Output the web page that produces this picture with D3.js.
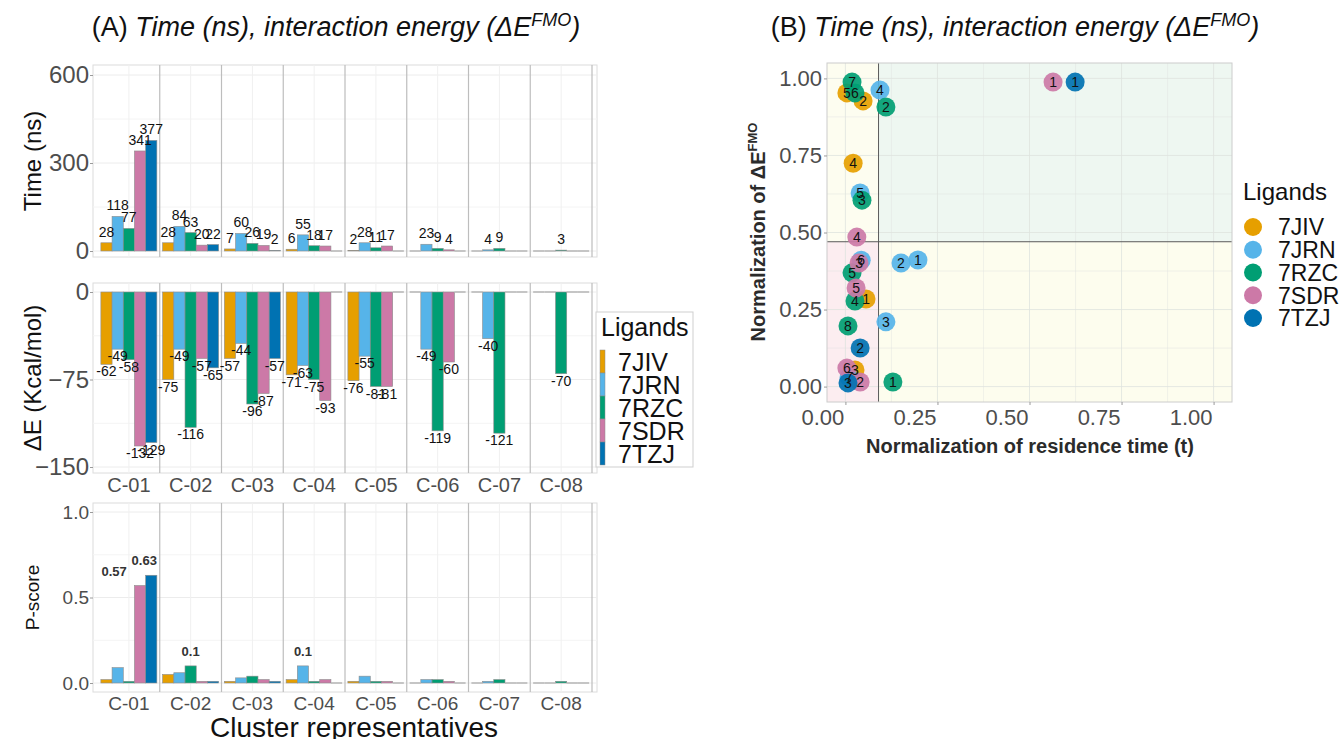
<!DOCTYPE html>
<html>
<head>
<meta charset="utf-8">
<script src="https://cdn.jsdelivr.net/npm/d3@7"></script>
<style>
  body { margin: 0; background: #fff; }
  svg { font-family: "Liberation Sans", Arial, sans-serif; }
</style>
</head>
<body>
<script>
// ---- data ----
const clusters = ["C-01", "C-02", "C-03", "C-04", "C-05", "C-06", "C-07", "C-08"];
const ligands = ["7JIV", "7JRN", "7RZC", "7SDR", "7TZJ"];
const ligandColors = ["#E69F00", "#56B4E9", "#009E73", "#CC79A7", "#0072B2"];

// rows = clusters, columns = ligands (0 = no pose)
const timeNs = [
    [28, 118, 77, 341, 377],
    [28, 84, 63, 20, 22],
    [7, 60, 26, 19, 2],
    [6, 55, 18, 17, 0],
    [2, 28, 11, 17, 0],
    [0, 23, 9, 4, 0],
    [0, 4, 9, 0, 0],
    [0, 0, 3, 0, 0]
];
const deltaE = [
    [-62, -49, -58, -132, -129],
    [-75, -49, -116, -57, -65],
    [-57, -44, -96, -87, -57],
    [-71, -63, -75, -93, 0],
    [-76, -55, -81, -81, 0],
    [0, -49, -119, -60, 0],
    [0, -40, -121, 0, 0],
    [0, 0, -70, 0, 0]
];
const pScore = [
    [0.02, 0.09, 0.01, 0.57, 0.63],
    [0.05, 0.06, 0.10, 0.01, 0.01],
    [0.01, 0.03, 0.04, 0.02, 0.01],
    [0.02, 0.10, 0.01, 0.02, 0],
    [0.01, 0.04, 0.01, 0.01, 0],
    [0, 0.02, 0.02, 0.01, 0],
    [0, 0.01, 0.02, 0, 0],
    [0, 0, 0.01, 0, 0]
];
const pLabelled = [[0, 3], [0, 4], [1, 2], [3, 1]];

const timeTicks = [0, 300, 600];
const energyTicks = [-150, -75, 0];
const pTicks = [0, 0.5, 1];
const normTicks = [0, 0.25, 0.5, 0.75, 1];

// panel B: normalised residence time vs normalised interaction energy
const scatterLigand = ["7JIV", "7JIV", "7JIV", "7JIV", "7JIV",
    "7JRN", "7JRN", "7JRN", "7JRN", "7JRN", "7JRN", "7JRN",
    "7RZC", "7RZC", "7RZC", "7RZC", "7RZC", "7RZC", "7RZC", "7RZC",
    "7SDR", "7SDR", "7SDR", "7SDR", "7SDR", "7SDR",
    "7TZJ", "7TZJ", "7TZJ"];
const scatterCluster = [1, 2, 3, 4, 5,
    1, 2, 3, 4, 5, 6, 7,
    1, 2, 3, 4, 5, 6, 7, 8,
    1, 2, 3, 4, 5, 6,
    1, 2, 3];
const scatterX = [0.056, 0.048, 0.026, 0.021, 0.004,
    0.197, 0.151, 0.110, 0.094, 0.040, 0.043, 0.010,
    0.129, 0.110, 0.045, 0.026, 0.018, 0.026, 0.018, 0.007,
    0.564, 0.040, 0.037, 0.031, 0.029, 0.004,
    0.624, 0.040, 0.007];
const scatterY = [0.284, 0.927, 0.054, 0.725, 0.953,
    0.411, 0.401, 0.210, 0.962, 0.628, 0.410, 0.030,
    0.015, 0.907, 0.605, 0.278, 0.369, 0.953, 0.988, 0.197,
    0.988, 0.015, 0.401, 0.485, 0.320, 0.060,
    0.988, 0.125, 0.012];
const energyCut = 0.47;
const timeCut = 0.09;

// ---- setup ----
const svg = d3.select("body").append("svg")
    .attr("width", 1343)
    .attr("height", 739);

const tickGrey = "#4d4d4d";
const colour = d3.scaleOrdinal().domain(ligands).range(ligandColors);

function title(x, letter){
    let t = svg.append("text")
        .attr("x", x)
        .attr("y", 36)
        .attr("text-anchor", "middle")
        .attr("font-size", 27)
        .attr("fill", "#111");
    t.append("tspan").text("(" + letter + ") ");
    t.append("tspan").attr("font-style", "italic").text("Time (ns), interaction energy (ΔE");
    t.append("tspan").attr("font-style", "italic").attr("font-size", 18).attr("dy", -10).text("FMO");
    t.append("tspan").attr("font-style", "italic").attr("dy", 10).text(")");
}
title(336, "A");
title(1015, "B");

// ---- panel A: three faceted bar panels ----
const left = 93, right = 597;
const fx = d3.scaleBand().domain(clusters).range([98, 592]);
const fl = d3.scaleBand().domain(ligands).range([0, fx.bandwidth()]).paddingOuter(0.257);

function barPanel(opt){
    let g = svg.append("g");
    let y = opt.y;
    g.append("rect")
        .attr("x", left).attr("y", opt.top)
        .attr("width", right - left).attr("height", opt.bottom - opt.top)
        .attr("fill", "white").attr("stroke", "#dcdcdc");

    // grid
    g.selectAll(".minor")
        .data(opt.minor)
        .join("line")
        .attr("x1", left).attr("x2", right)
        .attr("y1", d => y(d)).attr("y2", d => y(d))
        .attr("stroke", "#f4f4f4");
    g.selectAll(".major")
        .data(opt.ticks)
        .join("line")
        .attr("x1", left).attr("x2", right)
        .attr("y1", d => y(d)).attr("y2", d => y(d))
        .attr("stroke", "#ececec");
    g.selectAll(".vgrid")
        .data(clusters)
        .join("line")
        .attr("x1", d => fx(d) + fx.bandwidth() / 2)
        .attr("x2", d => fx(d) + fx.bandwidth() / 2)
        .attr("y1", opt.top).attr("y2", opt.bottom)
        .attr("stroke", "#f0f0f0");

    // bars
    let cells = [];
    opt.values.forEach(function(row, i){
        row.forEach(function(v, j){
            cells.push({c: clusters[i], l: ligands[j], v: v, i: i, j: j});
        });
    });
    g.selectAll(".bar")
        .data(cells.filter(d => d.v != 0))
        .join("rect")
        .attr("x", d => fx(d.c) + fl(d.l))
        .attr("width", fl.bandwidth())
        .attr("y", d => Math.min(y(d.v), y(0)))
        .attr("height", d => Math.abs(y(d.v) - y(0)))
        .attr("fill", d => colour(d.l))
        .attr("stroke", "#8c8c8c")
        .attr("stroke-width", 0.6);
    g.selectAll(".zero")
        .data(cells.filter(d => d.v == 0))
        .join("line")
        .attr("x1", d => fx(d.c) + fl(d.l))
        .attr("x2", d => fx(d.c) + fl(d.l) + fl.bandwidth())
        .attr("y1", y(0)).attr("y2", y(0))
        .attr("stroke", "#b5b5b5")
        .attr("stroke-width", 1.5);

    // facet separators
    g.selectAll(".sep")
        .data(clusters)
        .join("line")
        .attr("x1", d => fx(d) + fx.bandwidth())
        .attr("x2", d => fx(d) + fx.bandwidth())
        .attr("y1", opt.top).attr("y2", opt.bottom)
        .attr("stroke", "#bdbdbd")
        .attr("stroke-width", 1.2);

    // value labels
    if (opt.label){
        opt.label(g, cells);
    }

    // y axis
    let ax = g.append("g")
        .attr("transform", "translate(" + left + ",0)")
        .call(d3.axisLeft(y).tickValues(opt.ticks).tickSize(3).tickPadding(1).tickFormat(opt.fmt));
    ax.select(".domain").remove();
    ax.selectAll("line").attr("stroke", "#9a9a9a");
    ax.selectAll("text")
        .attr("fill", tickGrey)
        .attr("font-size", opt.tickFont)
        .attr("font-family", "Liberation Sans, Arial, sans-serif");

    // y title
    g.append("text")
        .attr("transform", "translate(" + opt.titleX + "," + ((opt.top + opt.bottom) / 2) + ") rotate(-90)")
        .attr("text-anchor", "middle")
        .attr("font-size", opt.titleFont)
        .attr("fill", "#111")
        .text(opt.title);

    // cluster labels
    if (opt.xLabels){
        let bx = g.append("g")
            .attr("transform", "translate(0," + opt.bottom + ")")
            .call(d3.axisBottom(fx).tickSize(0).tickPadding(opt.xPad));
        bx.select(".domain").remove();
        bx.selectAll("text")
            .attr("fill", tickGrey)
            .attr("font-size", opt.xFont)
            .attr("font-family", "Liberation Sans, Arial, sans-serif");
    }
    return g;
}

const timeY = d3.scaleLinear().domain([0, 600]).range([251, 75]);
const energyY = d3.scaleLinear().domain([-150, 0]).range([467, 292]);
const pY = d3.scaleLinear().domain([0, 1]).range([683, 512]);

barPanel({
    top: 65, bottom: 257, y: timeY, values: timeNs,
    ticks: timeTicks, minor: [150, 450], fmt: d3.format("d"), tickFont: 24,
    title: "Time (ns)", titleX: 41, titleFont: 24,
    label: function(g, cells){
        g.selectAll(".lab")
            .data(cells.filter(d => d.v != 0))
            .join("text")
            .attr("x", d => fx(d.c) + fl(d.l) + fl.bandwidth() / 2)
            .attr("y", d => timeY(d.v) - 6)
            .attr("text-anchor", "middle")
            .attr("font-size", 14)
            .attr("fill", "#111")
            .text(d => d.v);
    }
});

barPanel({
    top: 283, bottom: 473, y: energyY, values: deltaE,
    ticks: energyTicks, minor: [-112.5, -37.5], fmt: d3.format("d"), tickFont: 24,
    title: "ΔE (Kcal/mol)", titleX: 41, titleFont: 24,
    xLabels: true, xPad: 5, xFont: 20,
    label: function(g, cells){
        g.selectAll(".lab")
            .data(cells.filter(d => d.v != 0))
            .join("text")
            .attr("x", d => fx(d.c) + fl(d.l) + fl.bandwidth() / 2)
            .attr("y", d => energyY(d.v) + 12)
            .attr("text-anchor", "middle")
            .attr("font-size", 14)
            .attr("fill", "#111")
            .text(d => d.v);
    }
});

barPanel({
    top: 503, bottom: 692, y: pY, values: pScore,
    ticks: pTicks, minor: [0.25, 0.75], fmt: d3.format(".1f"), tickFont: 19,
    title: "P-score", titleX: 39, titleFont: 19,
    xLabels: true, xPad: 5, xFont: 19,
    label: function(g, cells){
        // the two C-01 labels were pushed left so they don't collide
        let shift = {"0-3": -26, "0-4": -7};
        g.selectAll(".lab")
            .data(pLabelled.map(p => cells.find(d => d.i == p[0] && d.j == p[1])))
            .join("text")
            .attr("x", d => fx(d.c) + fl(d.l) + fl.bandwidth() / 2 + (shift[d.i + "-" + d.j] || 0))
            .attr("y", d => pY(d.v) - 10)
            .attr("text-anchor", "middle")
            .attr("font-size", 13)
            .attr("font-weight", "bold")
            .attr("fill", "#333")
            .text(d => d3.format("")(d.v));
    }
});

svg.append("text")
    .attr("x", 354)
    .attr("y", 737)
    .attr("text-anchor", "middle")
    .attr("font-size", 28)
    .attr("fill", "#111")
    .text("Cluster representatives");

// legend A
let legA = svg.append("g");
legA.append("rect")
    .attr("x", 596).attr("y", 312)
    .attr("width", 97).attr("height", 155)
    .attr("fill", "white").attr("stroke", "#cfcfcf");
legA.append("text")
    .attr("x", 601).attr("y", 336)
    .attr("font-size", 25).attr("fill", "#111")
    .text("Ligands");
legA.selectAll(".key")
    .data(ligands)
    .join("rect")
    .attr("x", 600).attr("y", (d, i) => 350 + i * 23)
    .attr("width", 5).attr("height", 23)
    .attr("fill", d => colour(d))
    .attr("stroke", "#8c8c8c").attr("stroke-width", 0.5);
legA.selectAll(".lab")
    .data(ligands)
    .join("text")
    .attr("x", 618).attr("y", (d, i) => 361.5 + i * 23)
    .attr("dy", "0.36em")
    .attr("font-size", 25).attr("fill", "#111")
    .text(d => d);

// ---- panel B ----
const bx = d3.scaleLinear().domain([-0.05, 1.05]).range([827, 1232]);
const by = d3.scaleLinear().domain([-0.05, 1.05]).range([402, 63]);
let gB = svg.append("g");

const quads = [
    {x0: -0.05, x1: timeCut, y0: energyCut, y1: 1.05, fill: "#fdfdf0"},
    {x0: timeCut, x1: 1.05, y0: energyCut, y1: 1.05, fill: "#eef7f1"},
    {x0: -0.05, x1: timeCut, y0: -0.05, y1: energyCut, fill: "#fcedf0"},
    {x0: timeCut, x1: 1.05, y0: -0.05, y1: energyCut, fill: "#fdfdee"}
];
gB.selectAll(".quad")
    .data(quads)
    .join("rect")
    .attr("x", d => bx(d.x0)).attr("width", d => bx(d.x1) - bx(d.x0))
    .attr("y", d => by(d.y1)).attr("height", d => by(d.y0) - by(d.y1))
    .attr("fill", d => d.fill);

const minorB = [0.125, 0.375, 0.625, 0.875];
gB.selectAll(".gx")
    .data(normTicks.concat(minorB))
    .join("line")
    .attr("x1", d => bx(d)).attr("x2", d => bx(d))
    .attr("y1", 63).attr("y2", 402)
    .attr("stroke", "#dfe3df").attr("stroke-opacity", d => minorB.includes(d) ? 0.45 : 0.8);
gB.selectAll(".gy")
    .data(normTicks.concat(minorB))
    .join("line")
    .attr("y1", d => by(d)).attr("y2", d => by(d))
    .attr("x1", 827).attr("x2", 1232)
    .attr("stroke", "#dfe3df").attr("stroke-opacity", d => minorB.includes(d) ? 0.45 : 0.8);

gB.append("line")
    .attr("x1", bx(timeCut)).attr("x2", bx(timeCut))
    .attr("y1", 63).attr("y2", 402)
    .attr("stroke", "#5a5a5a").attr("stroke-width", 1);
gB.append("line")
    .attr("x1", 827).attr("x2", 1232)
    .attr("y1", by(energyCut)).attr("y2", by(energyCut))
    .attr("stroke", "#5a5a5a").attr("stroke-width", 1);

gB.append("rect")
    .attr("x", 827).attr("y", 63)
    .attr("width", 405).attr("height", 339)
    .attr("fill", "none").attr("stroke", "#cccccc");

const pts = scatterX.map((x, i) => ({x: x, y: scatterY[i], l: scatterLigand[i], c: scatterCluster[i]}));
gB.selectAll(".pt")
    .data(pts)
    .join("circle")
    .attr("cx", d => bx(d.x)).attr("cy", d => by(d.y))
    .attr("r", 9.5)
    .attr("fill", d => colour(d.l))
    .attr("fill-opacity", 0.92);
gB.selectAll(".ptlab")
    .data(pts)
    .join("text")
    .attr("x", d => bx(d.x)).attr("y", d => by(d.y))
    .attr("dy", "0.36em")
    .attr("text-anchor", "middle")
    .attr("font-size", 14)
    .attr("fill", "#111")
    .text(d => d.c);

let axB = gB.append("g")
    .attr("transform", "translate(0,402)")
    .call(d3.axisBottom(bx).tickValues(normTicks).tickSize(3).tickPadding(4).tickFormat(d3.format(".2f")));
axB.select(".domain").remove();
axB.selectAll("line").attr("stroke", "#9a9a9a");
axB.selectAll("text")
    .attr("dx", -23)
    .attr("fill", tickGrey).attr("font-size", 22)
    .attr("font-family", "Liberation Sans, Arial, sans-serif");

let ayB = gB.append("g")
    .attr("transform", "translate(827,0)")
    .call(d3.axisLeft(by).tickValues(normTicks).tickSize(3).tickPadding(2).tickFormat(d3.format(".2f")));
ayB.select(".domain").remove();
ayB.selectAll("line").attr("stroke", "#9a9a9a");
ayB.selectAll("text")
    .attr("fill", tickGrey).attr("font-size", 22)
    .attr("font-family", "Liberation Sans, Arial, sans-serif");

gB.append("text")
    .attr("x", 1030).attr("y", 453)
    .attr("text-anchor", "middle")
    .attr("font-size", 20).attr("font-weight", "bold").attr("fill", "#2b2b2b")
    .text("Normalization of residence time (t)");

let yt = gB.append("text")
    .attr("transform", "translate(765,232) rotate(-90)")
    .attr("text-anchor", "middle")
    .attr("font-size", 20).attr("font-weight", "bold").attr("fill", "#2b2b2b");
yt.append("tspan").text("Normalization of ΔE");
yt.append("tspan").attr("font-size", 13).attr("dy", -8).text("FMO");

// legend B
let legB = svg.append("g");
legB.append("text")
    .attr("x", 1243).attr("y", 200)
    .attr("font-size", 24).attr("fill", "#111")
    .text("Ligands");
legB.selectAll("circle")
    .data(ligands)
    .join("circle")
    .attr("cx", 1253).attr("cy", (d, i) => 227 + i * 22.75)
    .attr("r", 9)
    .attr("fill", d => colour(d));
legB.selectAll(".lab")
    .data(ligands)
    .join("text")
    .attr("x", 1278).attr("y", (d, i) => 227 + i * 22.75)
    .attr("dy", "0.36em")
    .attr("font-size", 23).attr("fill", "#111")
    .text(d => d);
</script>
</body>
</html>
